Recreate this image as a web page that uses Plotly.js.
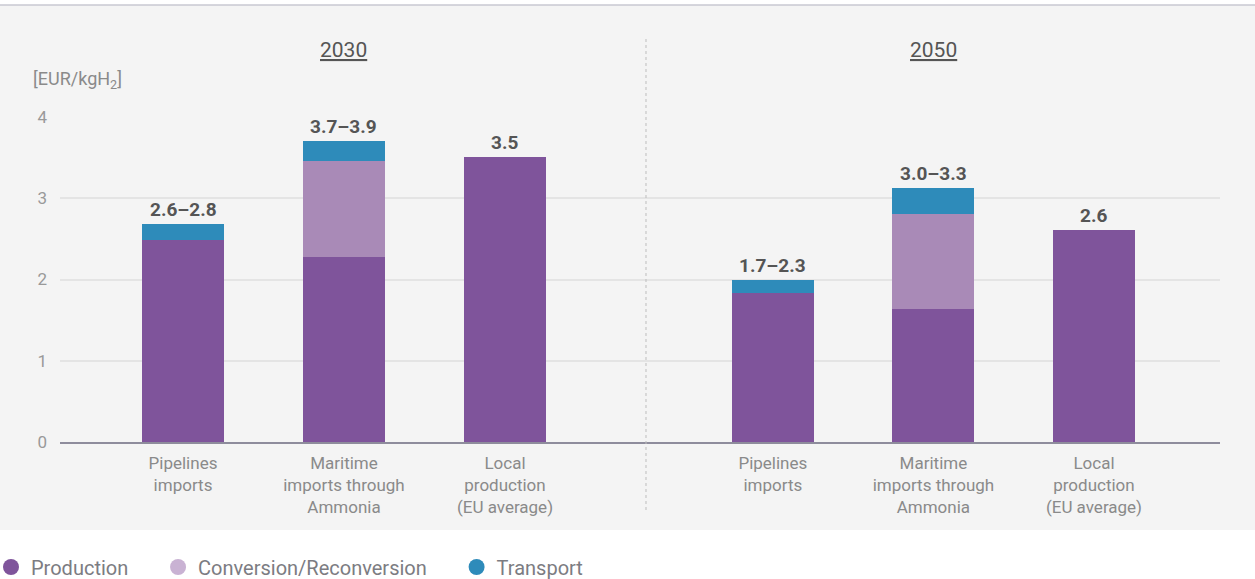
<!DOCTYPE html>
<html>
<head>
<meta charset="utf-8">
<script src="https://cdn.plot.ly/plotly-3.0.1.min.js"></script>
<style>html,body{margin:0;padding:0;background:#fff;}#chart{width:1255px;height:579px;}</style>
</head>
<body>
<div id="chart"></div>
<script>
// ---- data ----
const categories = ["Pipelines<br>imports", "Maritime<br>imports through<br>Ammonia", "Local<br>production<br>(EU average)"];
const years = ["2030", "2050"];
const production2030 = [2.49, 2.28, 3.51];
const conversion2030 = [0, 1.18, 0];
const transport2030 = [0.19, 0.24, 0];
const labels2030 = ["2.6–2.8", "3.7–3.9", "3.5"];
const production2050 = [1.83, 1.64, 2.61];
const conversion2050 = [0, 1.17, 0];
const transport2050 = [0.16, 0.32, 0];
const labels2050 = ["1.7–2.3", "3.0–3.3", "2.6"];
const seriesNames = ["Production", "Conversion/Reconversion", "Transport"];
const yTicks = [0, 1, 2, 3, 4];
const unitLabel = "[EUR/kgH<sub>2</sub>]";

// ---- style ----
const FONT = "Roboto, 'Open Sans', sans-serif";
const barColors = ["#7f549b", "#a98ab7", "#2e8bba"];
const legendColors = ["#7f549b", "#c9b2d3", "#2e8bba"];
const legendPad = "\u00a0\u00a0\u00a0\u00a0\u00a0";
const BW = 0.51;

const traces = [];
function addYear(prod, conv, trans, xa) {
  const sets = [prod, conv, trans];
  sets.forEach((vals, i) => {
    traces.push({
      type: "bar", x: categories, y: vals, xaxis: xa, yaxis: "y",
      width: BW, marker: {color: barColors[i], line: {width: 0}},
      showlegend: false, hoverinfo: "skip"
    });
  });
}
addYear(production2030, conversion2030, transport2030, "x");
addYear(production2050, conversion2050, transport2050, "x2");
seriesNames.forEach((n, i) => {
  traces.push({
    type: "scatter", mode: "markers", x: [null], y: [null], xaxis: "x", yaxis: "y",
    name: n + (i < seriesNames.length - 1 ? legendPad : ""),
    marker: {symbol: "circle", size: 17, color: legendColors[i]}, showlegend: true
  });
});

// pixel helpers (layout only)
const L = 60, R = 1220, T = 117, B = 442;
const px = v => (v - L) / (R - L);
const py = v => (B - v) / (B - T);

const annotations = [];
function totalLabels(prod, conv, trans, labels, xa) {
  labels.forEach((t, i) => {
    annotations.push({
      xref: xa, yref: "y", x: i, y: prod[i] + conv[i] + trans[i],
      text: "<b>" + t + "</b>", showarrow: false, yanchor: "bottom", yshift: 1,
      font: {family: FONT, size: 19, color: "#555"}
    });
  });
}
totalLabels(production2030, conversion2030, transport2030, labels2030, "x");
totalLabels(production2050, conversion2050, transport2050, labels2050, "x2");
annotations.push({xref: "x", yref: "paper", x: 1, y: py(50), yanchor: "middle", text: "<u>" + years[0] + "</u>", showarrow: false,
  font: {family: FONT, size: 21, color: "#555"}});
annotations.push({xref: "x2", yref: "paper", x: 1, y: py(50), yanchor: "middle", text: "<u>" + years[1] + "</u>", showarrow: false,
  font: {family: FONT, size: 21, color: "#555"}});
annotations.push({xref: "paper", yref: "paper", x: px(31), y: py(80), xanchor: "left", yanchor: "middle", text: unitLabel, showarrow: false,
  font: {family: FONT, size: 18, color: "#8a8a8a"}});

const xcommon = {
  type: "category", showgrid: false, zeroline: false, showline: true, linecolor: "#8e8c9c", linewidth: 1.5,
  ticks: "", ticklabelstandoff: 5, tickfont: {family: FONT, size: 17, color: "#8a8a8a"}, anchor: "y", fixedrange: true
};
const split = px(646);

const layout = {
  width: 1255, height: 579,
  margin: {l: L, r: 1255 - R, t: T, b: 579 - B, autoexpand: false},
  paper_bgcolor: "#ffffff", plot_bgcolor: "rgba(0,0,0,0)",
  barmode: "stack", bargap: 0.49,
  font: {family: FONT},
  xaxis: Object.assign({}, xcommon, {domain: [0, split], range: [-0.764, 2.876]}),
  xaxis2: Object.assign({}, xcommon, {domain: [split, 1], range: [-0.79, 2.785]}),
  yaxis: {
    range: [0, 4], tickvals: yTicks, showgrid: true, gridcolor: "#e4e4e4", gridwidth: 2,
    zeroline: false, showline: false, ticks: "", ticklabelstandoff: 12,
    tickfont: {family: FONT, size: 17, color: "#999"}, anchor: "x", fixedrange: true
  },
  showlegend: true,
  legend: {
    orientation: "h", traceorder: "normal", x: px(-9), xanchor: "left", y: py(567), yanchor: "middle",
    font: {family: FONT, size: 20, color: "#7c7c82"}, bgcolor: "rgba(0,0,0,0)",
    itemclick: false, itemdoubleclick: false
  },
  shapes: [
    {type: "rect", xref: "paper", yref: "paper", x0: px(-5), x1: px(1260), y0: py(530), y1: py(5),
      fillcolor: "#f4f4f4", line: {width: 0}, layer: "below"},
    {type: "line", xref: "paper", yref: "paper", x0: px(-5), x1: px(1260), y0: py(5), y1: py(5),
      line: {color: "#c8c8d2", width: 1.5}, layer: "below"},
    {type: "line", xref: "paper", yref: "paper", x0: split, x1: split, y0: py(510), y1: py(38),
      line: {color: "#bdbdbd", width: 1, dash: "dot"}, layer: "above"}
  ],
  annotations: annotations
};

Plotly.newPlot("chart", traces, layout, {displayModeBar: false, staticPlot: true});
</script>
</body>
</html>
